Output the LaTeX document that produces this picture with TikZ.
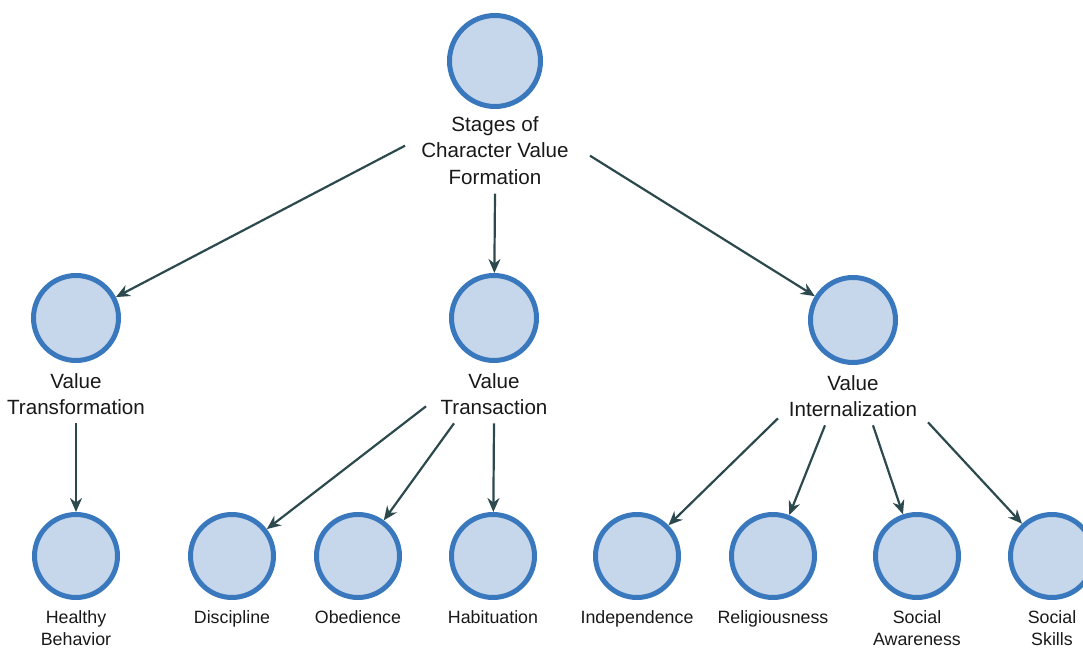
\documentclass[tikz,border=0pt]{standalone}
\usepackage{fontspec}
\setmainfont{Liberation Sans}
\usetikzlibrary{positioning, calc, arrows.meta}
\definecolor{circfill}{RGB}{198,214,235}
\definecolor{circline}{RGB}{58,120,190}
\definecolor{arrcol}{RGB}{44,74,78}

\begin{document}
\begin{tikzpicture}[x=0.5pt, y=-0.5pt,
    stage/.style={circle, draw=circline, fill=circfill, line width=2.5pt, minimum size=41.5pt, inner sep=0pt},
    lbl/.style={align=center, inner sep=0pt, font=\fontsize{10.3}{13.2}\selectfont, text=black!90},
    leaflbl/.style={lbl, font=\fontsize{8.9}{11.3}\selectfont},
    arr/.style={-{Stealth[length=7pt,width=6pt]}, draw=arrcol, line width=1.1pt}]
    \useasboundingbox (0,0) rectangle (1083,651);
    \clip (0,0) rectangle (1083,651);

    % Root:
    \node[stage, minimum size=45.5pt] (root) at (495,61) {};
    \node[lbl, below=3.5pt of root] (rootlab) {Stages of\\Character Value\\Formation};

    % Stages:
    \node[stage, minimum size=42.5pt] (vtf) at (76,318) {};
    \node[stage, minimum size=42.5pt] (vta) at (494,318) {};
    \node[stage, minimum size=42.5pt] (vin) at (853,320) {};
    \node[lbl, below=5pt of vtf] (vtflab) {Value\\Transformation};
    \node[lbl, below=5pt of vta] (vtalab) {Value\\Transaction};
    \node[lbl, below=5pt of vin] (vinlab) {Value\\Internalization};

    % Values:
    \foreach \name/\x/\txt in {hb/76/Healthy\\Behavior, dis/232/Discipline, obe/358/Obedience,
            hab/493/Habituation, ind/637/Independence, rel/773/Religiousness,
            saw/917/Social\\Awareness, ssk/1052/Social\\Skills} {
        \node[stage] (\name) at (\x,556) {};
        \node[leaflbl, below=5pt of \name] (\name lab) {\txt};
    }

    % Arrows:
    \draw[arr] ($(rootlab.south)+(-90,-39)$) -- (vtf);
    \draw[arr] ($(rootlab.south)+(0,9)$) -- (vta);
    \draw[arr] ($(rootlab.south)+(95,-29)$) -- (vin);

    \draw[arr] ($(vtflab.south)+(0,8)$) -- (hb);

    \draw[arr] ($(vtalab.south)+(-68,-9)$) -- (dis);
    \draw[arr] ($(vtalab.south)+(-40,8)$) -- (obe);
    \draw[arr] ($(vtalab.south)+(0,8)$) -- (hab);

    \draw[arr] ($(vinlab.south)+(-75,1)$) -- (ind);
    \draw[arr] ($(vinlab.south)+(-28,8)$) -- (rel);
    \draw[arr] ($(vinlab.south)+(20,8)$) -- (saw);
    \draw[arr] ($(vinlab.south)+(75,5)$) -- (ssk);
\end{tikzpicture}
\end{document}
